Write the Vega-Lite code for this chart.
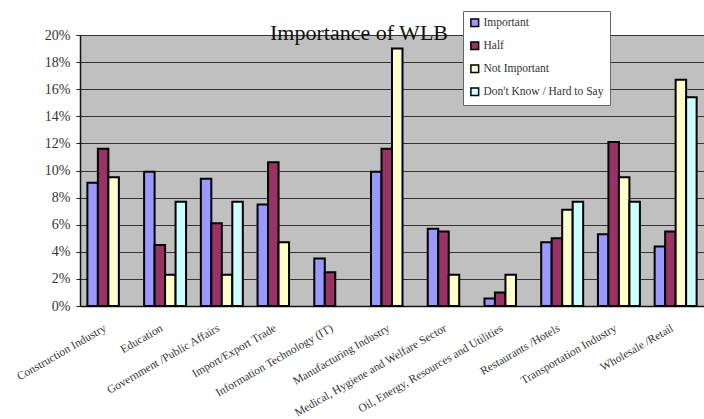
{
  "$schema": "https://vega.github.io/schema/vega-lite/v6.json",
  "autosize": {"type": "none"},
  "width": 624,
  "height": 271,
  "padding": {"left": 80, "top": 35, "right": 0, "bottom": 113},
  "background": "white",
  "title": {
    "text": "Importance of WLB",
    "font": "Liberation Serif",
    "fontSize": 22,
    "fontWeight": "normal",
    "color": "#111",
    "frame": "group",
    "anchor": "middle",
    "baseline": "alphabetic",
    "offset": 0,
    "dx": -33,
    "dy": 51
  },
  "config": {
    "view": {"fill": "#C0C0C0", "stroke": null},
    "font": "Liberation Serif",
    "style": {"guide-label": {"font": "Liberation Serif"}},
    "legend": {"labelFont": "Liberation Serif"},
    "axis": {"labelFont": "Liberation Serif"}
  },
  "data": {
    "values": [
      {"category": "Construction Industry", "response": "Important", "value": 0.091},
      {"category": "Construction Industry", "response": "Half", "value": 0.116},
      {"category": "Construction Industry", "response": "Not Important", "value": 0.095},
      {"category": "Education", "response": "Important", "value": 0.099},
      {"category": "Education", "response": "Half", "value": 0.045},
      {"category": "Education", "response": "Not Important", "value": 0.023},
      {"category": "Education", "response": "Don't Know / Hard to Say", "value": 0.077},
      {"category": "Government /Public Affairs", "response": "Important", "value": 0.094},
      {"category": "Government /Public Affairs", "response": "Half", "value": 0.061},
      {"category": "Government /Public Affairs", "response": "Not Important", "value": 0.023},
      {"category": "Government /Public Affairs", "response": "Don't Know / Hard to Say", "value": 0.077},
      {"category": "Import/Export Trade", "response": "Important", "value": 0.075},
      {"category": "Import/Export Trade", "response": "Half", "value": 0.106},
      {"category": "Import/Export Trade", "response": "Not Important", "value": 0.047},
      {"category": "Information Technology (IT)", "response": "Important", "value": 0.035},
      {"category": "Information Technology (IT)", "response": "Half", "value": 0.025},
      {"category": "Manufacturing Industry", "response": "Important", "value": 0.099},
      {"category": "Manufacturing Industry", "response": "Half", "value": 0.116},
      {"category": "Manufacturing Industry", "response": "Not Important", "value": 0.19},
      {"category": "Medical, Hygiene and Welfare Sector", "response": "Important", "value": 0.057},
      {"category": "Medical, Hygiene and Welfare Sector", "response": "Half", "value": 0.055},
      {"category": "Medical, Hygiene and Welfare Sector", "response": "Not Important", "value": 0.023},
      {"category": "Oil, Energy, Resources and Utilities", "response": "Important", "value": 0.0055},
      {"category": "Oil, Energy, Resources and Utilities", "response": "Half", "value": 0.01},
      {"category": "Oil, Energy, Resources and Utilities", "response": "Not Important", "value": 0.023},
      {"category": "Restaurants /Hotels", "response": "Important", "value": 0.047},
      {"category": "Restaurants /Hotels", "response": "Half", "value": 0.05},
      {"category": "Restaurants /Hotels", "response": "Not Important", "value": 0.071},
      {"category": "Restaurants /Hotels", "response": "Don't Know / Hard to Say", "value": 0.077},
      {"category": "Transportation Industry", "response": "Important", "value": 0.053},
      {"category": "Transportation Industry", "response": "Half", "value": 0.121},
      {"category": "Transportation Industry", "response": "Not Important", "value": 0.095},
      {"category": "Transportation Industry", "response": "Don't Know / Hard to Say", "value": 0.077},
      {"category": "Wholesale /Retail", "response": "Important", "value": 0.044},
      {"category": "Wholesale /Retail", "response": "Half", "value": 0.055},
      {"category": "Wholesale /Retail", "response": "Not Important", "value": 0.167},
      {"category": "Wholesale /Retail", "response": "Don't Know / Hard to Say", "value": 0.154}
    ]
  },
  "mark": {"type": "bar", "stroke": "black", "strokeWidth": 2},
  "encoding": {
    "x": {
      "field": "category",
      "type": "nominal",
      "sort": null,
      "title": null,
      "scale": {"paddingInner": 0.26, "paddingOuter": 0.13},
      "axis": {
        "bandPosition": 0,
        "labelOffset": -6,
        "labelAngle": -30,
        "labelAlign": "right",
        "labelBaseline": "top",
        "labelPadding": 20,
        "labelFontSize": 11.5,
        "labelColor": "#333",
        "labelFont": "Liberation Serif",
        "labelLimit": 300,
        "ticks": true,
        "tickSize": -4,
        "tickColor": "#222",
        "domainColor": "#111",
        "domainWidth": 1.5,
        "grid": false
      }
    },
    "xOffset": {
      "field": "response",
      "type": "nominal",
      "scale": {"domain": ["Important", "Half", "Not Important", "Don't Know / Hard to Say"], "paddingInner": 0, "paddingOuter": 0}
    },
    "y": {
      "field": "value",
      "type": "quantitative",
      "title": null,
      "scale": {"domain": [0, 0.2], "nice": false},
      "axis": {
        "format": ".0%",
        "values": [0, 0.02, 0.04, 0.06, 0.08, 0.1, 0.12, 0.14, 0.16, 0.18, 0.2],
        "labelFontSize": 14,
        "labelColor": "#333",
        "labelFont": "Liberation Serif",
        "labelPadding": 6,
        "tickSize": 4,
        "tickColor": "#222",
        "domainColor": "#111",
        "domainWidth": 1.5,
        "gridColor": "#333",
        "gridWidth": 1,
        "gridOpacity": 1
      }
    },
    "color": {
      "field": "response",
      "type": "nominal",
      "title": null,
      "scale": {
        "domain": ["Important", "Half", "Not Important", "Don't Know / Hard to Say"],
        "range": ["#9999FF", "#993366", "#FFFFCC", "#CCFFFF"]
      },
      "legend": {
        "orient": "none",
        "legendX": 383,
        "legendY": -24,
        "fillColor": "white",
        "strokeColor": "#666",
        "padding": 6,
        "rowPadding": 8,
        "symbolType": "square",
        "symbolSize": 60,
        "symbolStrokeColor": "black",
        "symbolStrokeWidth": 1.5,
        "symbolOpacity": 1,
        "labelFontSize": 11.5,
        "labelColor": "#333",
        "labelFont": "Liberation Serif",
        "labelOffset": 3,
        "labelLimit": 300
      }
    }
  }
}
